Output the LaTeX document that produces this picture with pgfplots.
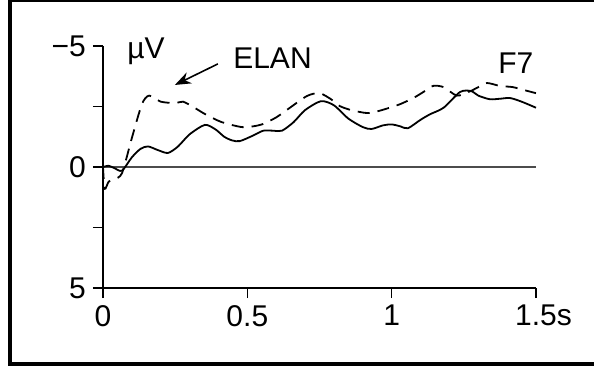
\documentclass[border=0pt]{standalone}
\usepackage{pgfplots}
\pgfplotsset{compat=1.18}
\usepackage{fontspec}
\setmainfont{Liberation Sans}
\usetikzlibrary{arrows.meta}

% ERP waveforms at electrode F7 (negative up)
\pgfplotstableread{
x y
0.000 0.00
0.020 -0.05
0.040 0.05
0.066 0.15
0.100 -0.40
0.130 -0.75
0.156 -0.85
0.190 -0.70
0.225 -0.58
0.260 -0.85
0.300 -1.35
0.353 -1.74
0.390 -1.55
0.420 -1.25
0.447 -1.10
0.474 -1.07
0.520 -1.30
0.555 -1.50
0.590 -1.50
0.620 -1.50
0.660 -1.85
0.700 -2.35
0.755 -2.72
0.800 -2.55
0.850 -2.00
0.900 -1.65
0.930 -1.57
0.970 -1.72
1.000 -1.76
1.030 -1.68
1.056 -1.60
1.100 -1.95
1.133 -2.18
1.180 -2.45
1.237 -3.10
1.275 -3.14
1.300 -2.95
1.340 -2.80
1.375 -2.82
1.410 -2.85
1.450 -2.70
1.500 -2.45
}\solidcurve

\pgfplotstableread{
x y
0.000 0.00
0.006 0.90
0.020 0.60
0.040 0.50
0.066 0.25
0.100 -1.20
0.135 -2.60
0.160 -2.95
0.200 -2.70
0.250 -2.64
0.277 -2.70
0.310 -2.50
0.353 -2.19
0.410 -1.86
0.480 -1.65
0.520 -1.68
0.555 -1.78
0.600 -2.05
0.636 -2.35
0.706 -2.93
0.750 -3.05
0.790 -2.80
0.820 -2.52
0.860 -2.35
0.914 -2.23
0.950 -2.30
0.985 -2.42
1.030 -2.60
1.075 -2.85
1.110 -3.10
1.143 -3.35
1.180 -3.30
1.226 -2.95
1.270 -3.12
1.300 -3.30
1.330 -3.47
1.375 -3.35
1.420 -3.30
1.468 -3.15
1.500 -3.05
}\dashedcurve

\begin{document}
\begin{tikzpicture}
\begin{axis}[
  scale only axis,
  width=216.5pt, height=121pt,
  xmin=0, xmax=1.5, ymin=-5, ymax=5,
  y dir=reverse,
  axis x line=bottom, axis y line=left,
  axis line style={line width=0.8pt, -},
  tick align=outside,
  major tick length=5pt, minor tick length=5pt,
  every tick/.style={line width=0.8pt, black},
  xtick={0,0.5,1,1.5},
  xticklabels={0,0.5,1,1.5\rlap{s}},
  ytick={-5,0,5},
  yticklabels={−5,0,5},
  minor ytick={-2.5,2.5},
  ticklabel style={font=\fontsize{15}{18}\selectfont},
  clip=false,
]
\coordinate (O) at (axis cs:0,-5);
\addplot[black!70, line width=0.8pt] coordinates {(0,0) (1.5,0)};
\addplot[black, line width=0.9pt, smooth, tension=0.45] table {\solidcurve};
\addplot[black, line width=0.9pt, smooth, tension=0.45, dash pattern=on 6pt off 4pt] table {\dashedcurve};
\node[anchor=base west, inner sep=0, font=\fontsize{15}{18}\selectfont] at (axis cs:0.083,-4.50) {µV};
\node[anchor=base west, inner sep=0, font=\fontsize{15}{18}\selectfont] at (axis cs:0.450,-4.05) {ELAN};
\node[anchor=base west, inner sep=0, font=\fontsize{15}{18}\selectfont] at (axis cs:1.368,-3.88) {F7};
\draw[-{Stealth[length=8pt,width=6pt]}, line width=0.8pt] (axis cs:0.398,-4.26) -- (axis cs:0.249,-3.39);
\end{axis}
\draw[line width=1.85pt] ([shift={(-46.5pt,22.75pt)}]O) rectangle ([shift={(247pt,-159pt)}]O);
\pgfresetboundingbox
\path[use as bounding box] ([shift={(-51.5pt,23pt)}]O) rectangle ([shift={(245.5pt,-161.5pt)}]O);
\end{tikzpicture}
\end{document}
